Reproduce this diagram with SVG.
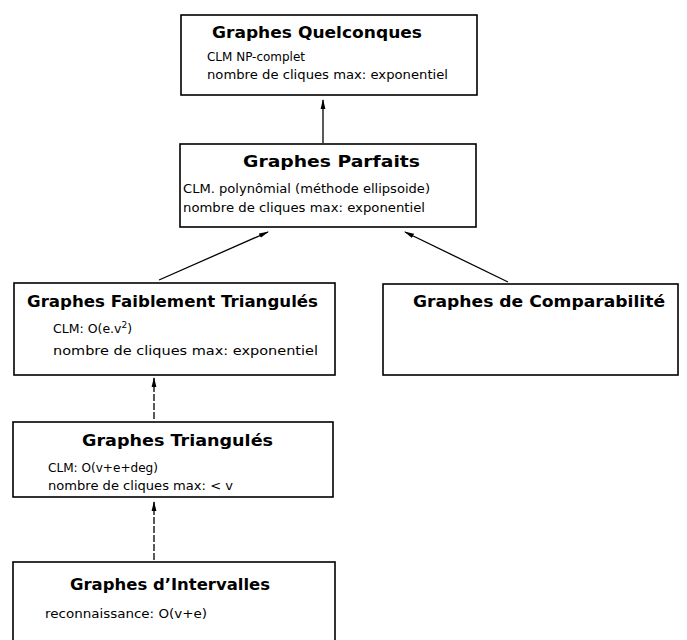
<svg xmlns="http://www.w3.org/2000/svg" width="687" height="640" viewBox="0 0 687 640">
<style>
.box{fill:#fff;stroke:#000;stroke-width:1.6}
.t{font-family:"DejaVu Sans","Liberation Sans",sans-serif;font-weight:bold;font-size:16px;fill:#000}
.b{font-family:"DejaVu Sans","Liberation Sans",sans-serif;font-size:12px;fill:#000}
.b3{font-family:"DejaVu Sans","Liberation Sans",sans-serif;font-size:12.5px;fill:#000}
.c{stroke:#000;stroke-width:1.3;fill:none;marker-end:url(#ah)}
.d{stroke-dasharray:7 2}
</style>
<defs>
<marker id="ah" markerWidth="10" markerHeight="6" refX="9" refY="3" orient="auto" markerUnits="userSpaceOnUse">
<path d="M0,0.6 L10,3 L0,5.4 Z" fill="#000"/>
</marker>
</defs>
<rect width="687" height="640" fill="#fff"/>
<g id="connectors">
<line class="c" x1="323" y1="143" x2="323" y2="100"/>
<line class="c" x1="159" y1="280" x2="268" y2="232"/>
<line class="c" x1="508" y1="282" x2="405" y2="232"/>
<line class="c d" x1="154" y1="419" x2="154" y2="378"/>
<line class="c d" x1="154" y1="560" x2="154" y2="502"/>
</g>
<g id="n-quelconques">
<rect class="box" x="181" y="15" width="296" height="80"/>
<text class="t" x="212" y="38" textLength="210" lengthAdjust="spacingAndGlyphs">Graphes Quelconques</text>
<text class="b" x="207" y="61" textLength="98" lengthAdjust="spacingAndGlyphs">CLM  NP-complet</text>
<text class="b" x="207" y="79" textLength="241" lengthAdjust="spacingAndGlyphs">nombre de cliques max: exponentiel</text>
</g>
<g id="n-parfaits">
<rect class="box" x="180" y="144" width="296" height="83"/>
<text class="t" x="243" y="167" textLength="177" lengthAdjust="spacingAndGlyphs">Graphes Parfaits</text>
<text class="b" x="183" y="193" textLength="247" lengthAdjust="spacingAndGlyphs">CLM. polynômial (méthode ellipsoide)</text>
<text class="b" x="183" y="212" textLength="242" lengthAdjust="spacingAndGlyphs">nombre de cliques max: exponentiel</text>
</g>
<g id="n-faiblement">
<rect class="box" x="14" y="283" width="321" height="92"/>
<text class="t" x="27" y="307" textLength="291" lengthAdjust="spacingAndGlyphs">Graphes Faiblement Triangulés</text>
<text class="b3" x="53" y="333">CLM: O(e.v<tspan font-size="9" dy="-5">2</tspan><tspan dy="5">)</tspan></text>
<text class="b3" x="53" y="355" textLength="265" lengthAdjust="spacingAndGlyphs">nombre de cliques max: exponentiel</text>
</g>
<g id="n-comparabilite">
<rect class="box" x="383" y="284" width="295" height="91"/>
<text class="t" x="413" y="307" textLength="252" lengthAdjust="spacingAndGlyphs">Graphes de Comparabilité</text>
</g>
<g id="n-triangules">
<rect class="box" x="13" y="422" width="320" height="75"/>
<text class="t" x="82" y="446" textLength="191" lengthAdjust="spacingAndGlyphs">Graphes Triangulés</text>
<text class="b" x="48" y="472" textLength="110" lengthAdjust="spacingAndGlyphs">CLM: O(v+e+deg)</text>
<text class="b" x="48" y="490" textLength="185" lengthAdjust="spacingAndGlyphs">nombre de cliques max: &lt; v</text>
</g>
<g id="n-intervalles">
<rect class="box" x="13" y="562" width="322" height="95"/>
<text class="t" x="70" y="590" textLength="200" lengthAdjust="spacingAndGlyphs">Graphes d’Intervalles</text>
<text class="b" x="45" y="618" textLength="162" lengthAdjust="spacingAndGlyphs">reconnaissance: O(v+e)</text>
</g>
</svg>
